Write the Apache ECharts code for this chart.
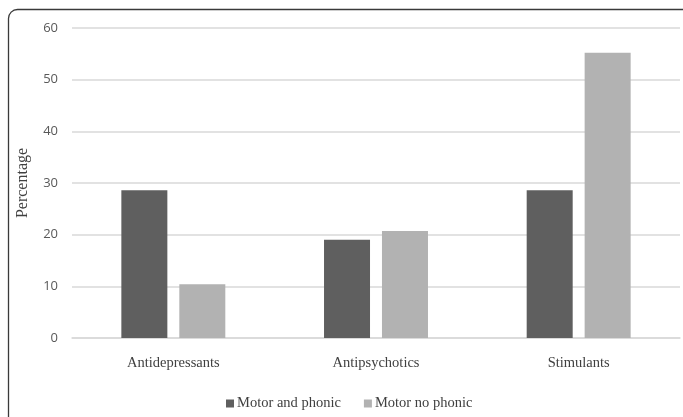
<!DOCTYPE html>
<html>
<head>
<meta charset="utf-8">
<style>
  html, body { margin: 0; padding: 0; background: #fff; }
  #chart { width: 683px; height: 417px; }
</style>
<script src="https://cdn.jsdelivr.net/npm/echarts@6/dist/echarts.min.js"></script>
</head>
<body>
<div id="chart"></div>
<script>
// Medication classes and percentage of patients per tic group
const categories = ['Antidepressants', 'Antipsychotics', 'Stimulants'];
const motorAndPhonic = [28.6, 19.0, 28.6];
const motorNoPhonic = [10.4, 20.7, 55.2];
const seriesNames = ['Motor and phonic', 'Motor no phonic'];

const chart = echarts.init(document.getElementById('chart'));
const serif = '"Liberation Serif", "Times New Roman", serif';

chart.setOption({
  animation: false,
  backgroundColor: '#ffffff',
  graphic: [{
    type: 'rect',
    shape: { x: 8.5, y: 9.5, width: 720, height: 440, r: 9 },
    style: { fill: 'none', stroke: '#3a3a3a', lineWidth: 1.3 },
    silent: true
  }],
  grid: { left: 72, right: 3, top: 28, bottom: 79 },
  legend: {
    top: 391,
    left: 221,
    itemWidth: 8,
    itemHeight: 8,
    itemGap: 23,
    icon: 'rect',
    textStyle: { fontFamily: serif, fontSize: 14.5, color: '#404040', padding: [0, 0, 0, -2] },
    data: seriesNames
  },
  xAxis: {
    type: 'category',
    data: categories,
    axisLine: { lineStyle: { color: '#d9d9d9', width: 1.5 } },
    axisTick: { show: false },
    axisLabel: { fontFamily: serif, fontSize: 14.5, color: '#404040', margin: 18 }
  },
  yAxis: {
    type: 'value',
    min: 0,
    max: 60,
    interval: 10,
    name: 'Percentage',
    nameLocation: 'middle',
    nameGap: 41,
    nameRotate: 90,
    nameTextStyle: { fontFamily: serif, fontSize: 16, color: '#404040' },
    axisLine: { show: false },
    axisTick: { show: false },
    splitLine: { lineStyle: { color: '#d9d9d9', width: 1.5 } },
    axisLabel: { fontFamily: '"Open Sans", sans-serif', fontSize: 13, color: '#595959', margin: 14 }
  },
  series: [
    {
      name: seriesNames[0],
      type: 'bar',
      data: motorAndPhonic,
      barWidth: 46,
      barGap: '26%',
      itemStyle: { color: '#5f5f5f' }
    },
    {
      name: seriesNames[1],
      type: 'bar',
      data: motorNoPhonic,
      barWidth: 46,
      itemStyle: { color: '#b2b2b2' }
    }
  ]
});
</script>
</body>
</html>
